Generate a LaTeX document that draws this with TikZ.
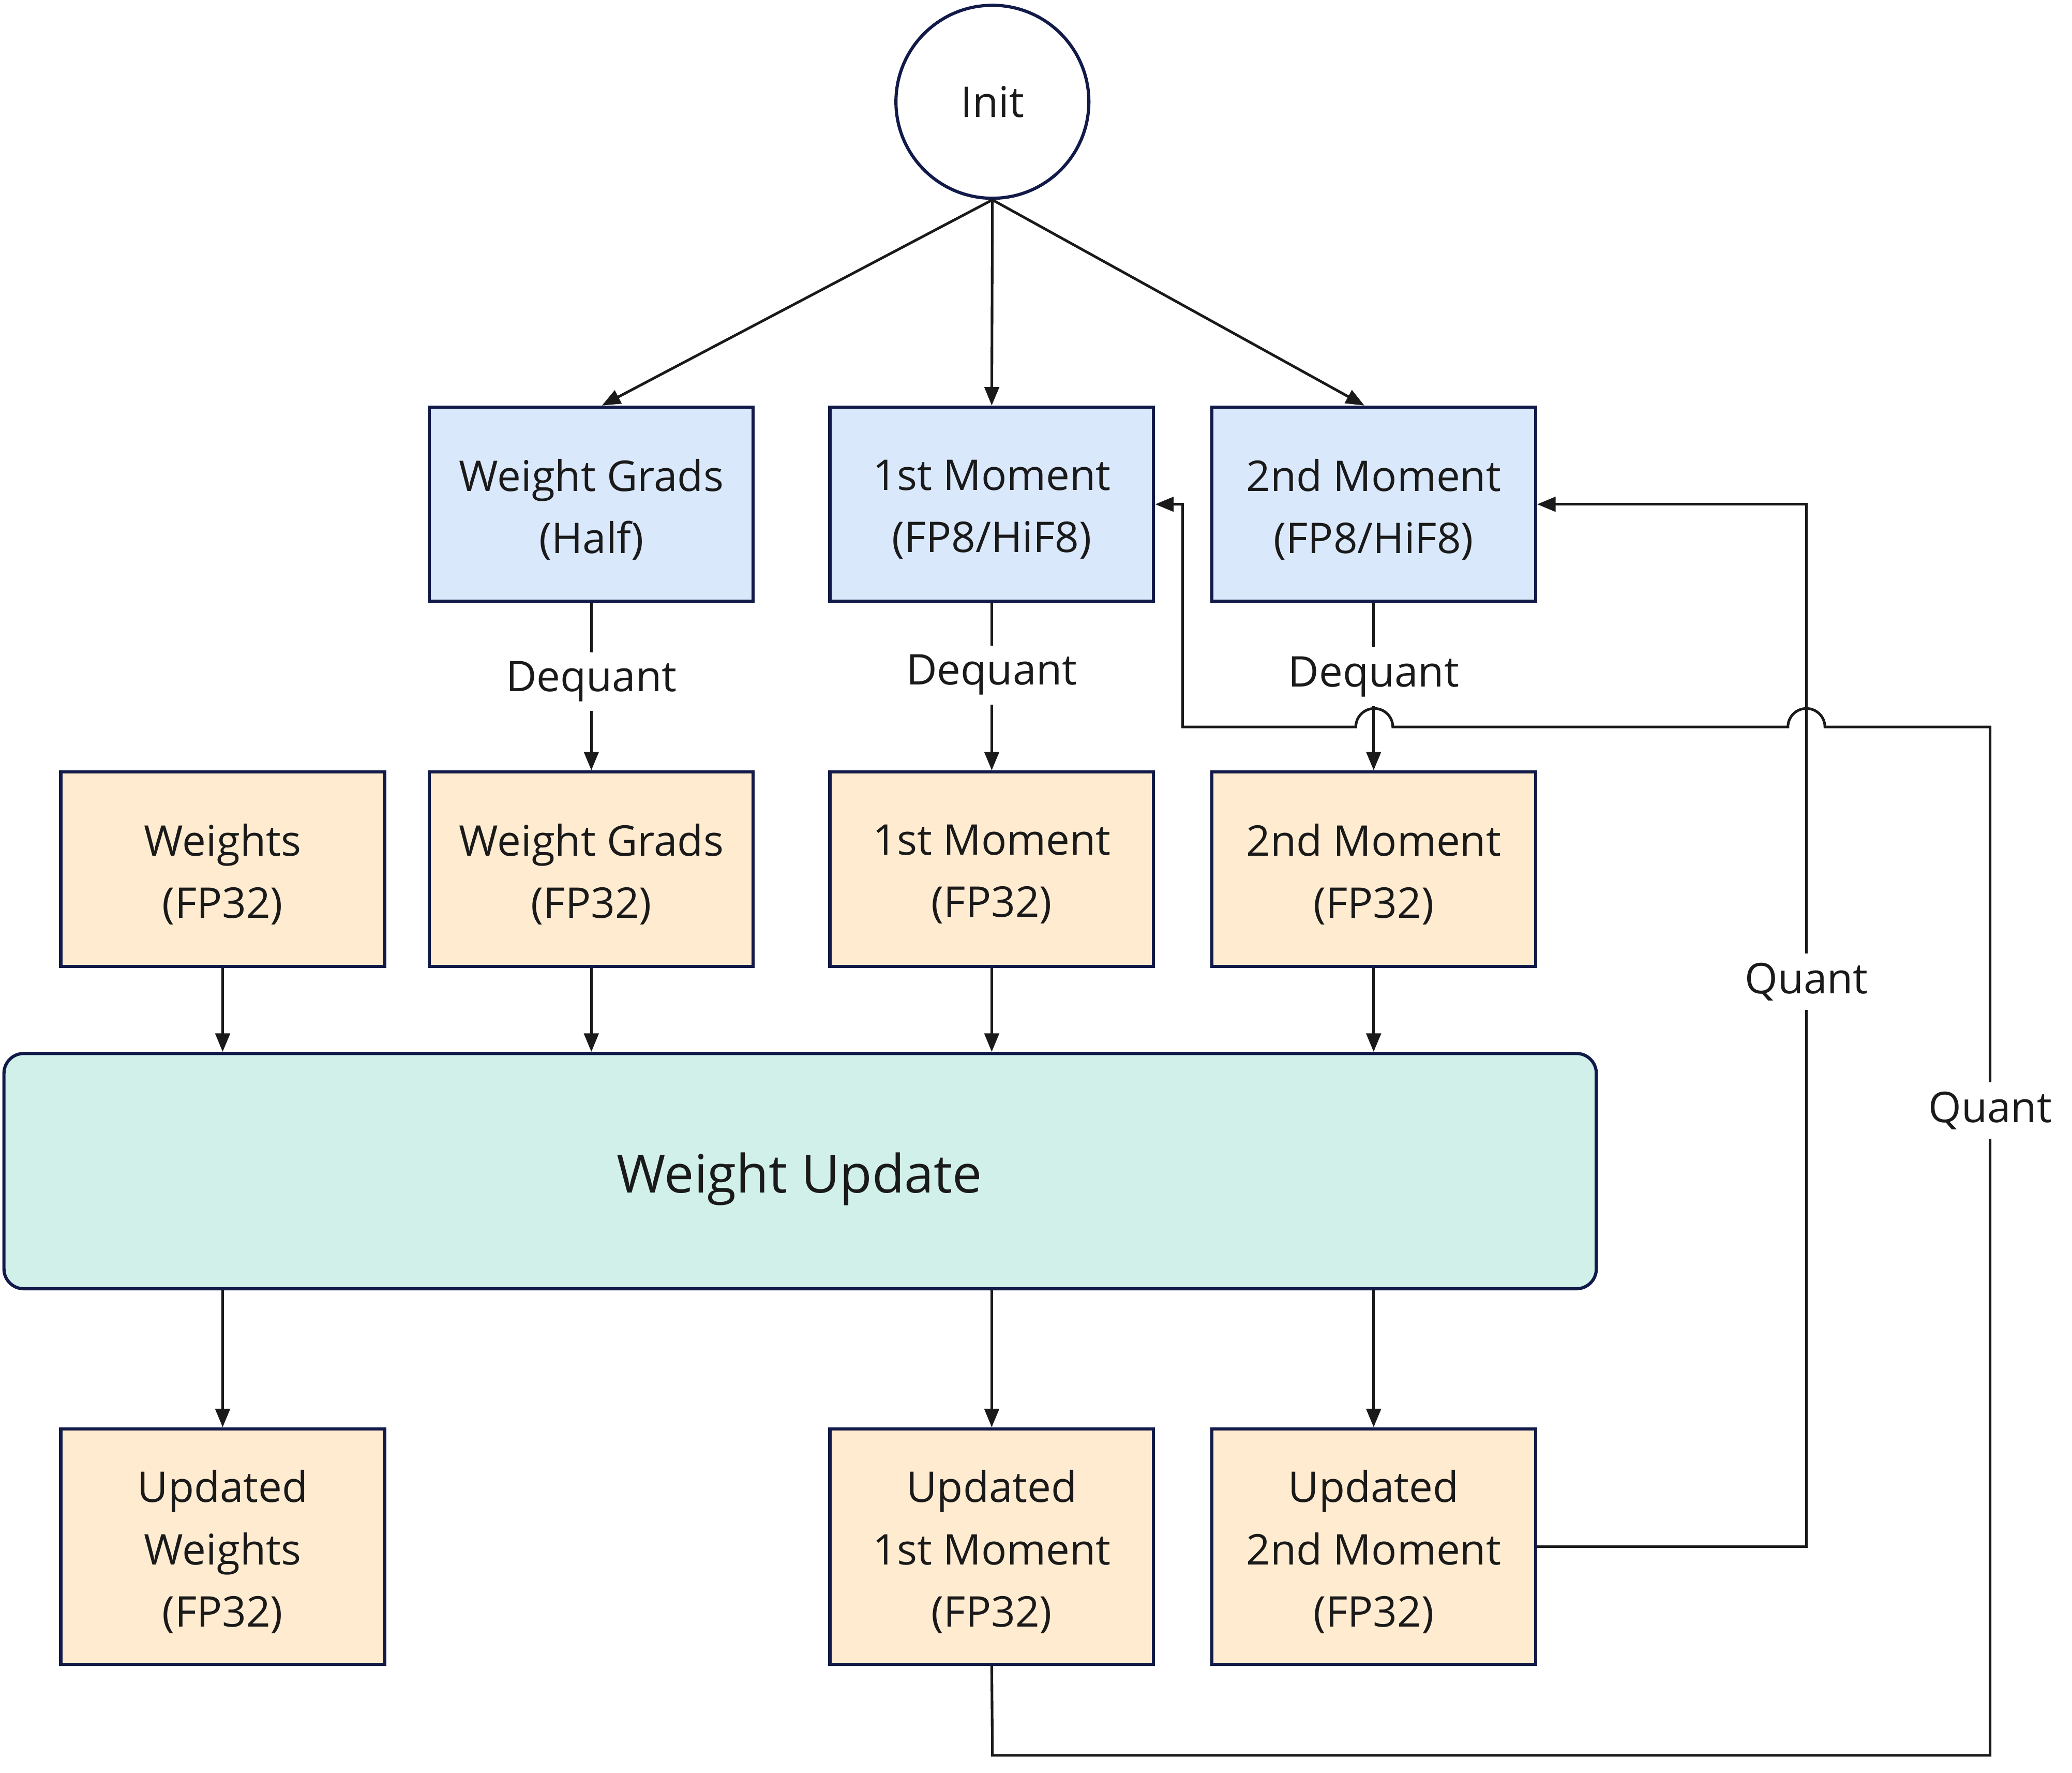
\documentclass[tikz,border=0pt]{standalone}
\usepackage{fontspec}
\setmainfont{Open Sans}
\usetikzlibrary{arrows.meta}
\definecolor{edge}{HTML}{111A48}
\definecolor{ink}{HTML}{1A1A1A}
\definecolor{bluefill}{HTML}{DAE8FC}
\definecolor{orangefill}{HTML}{FFEBD0}
\definecolor{tealfill}{HTML}{D0F0E9}
\tikzset{
  box/.style={draw=edge, line width=2.4pt, minimum width=245pt, inner sep=0pt},
  txt/.style={align=center, text=ink, font=\fontsize{32}{47}\selectfont,
    inner sep=0pt, yshift=-4pt},
  qbox/.style={box, fill=bluefill, minimum height=147pt},
  fbox/.style={box, fill=orangefill, minimum height=147pt},
  ubox/.style={box, fill=orangefill, minimum height=178pt},
  conn/.style={draw=ink, line width=2pt},
  arr/.style={conn, -{Triangle[length=14pt,width=11pt]}},
  lab/.style={fill=white, text=ink, font=\fontsize{32}{40}\selectfont,
    inner xsep=4pt, inner ysep=7pt}
}
\begin{document}
\begin{tikzpicture}[x=1pt,y=-1pt]
\useasboundingbox (0,0) rectangle (1568,1341);

\node[circle, draw=edge, line width=2.4pt, minimum size=146pt, inner sep=0pt,
  text=ink, font=\fontsize{32}{40}\selectfont] (init) at (751,77) {Init};

\node[qbox, label={[txt]center:Weight Grads\\(Half)}] (wgh) at (447.5,381.5) {};
\node[qbox, label={[txt]center:1st Moment\\(FP8/HiF8)}] (m1q) at (750.5,381.5) {};
\node[qbox, label={[txt]center:2nd Moment\\(FP8/HiF8)}] (m2q) at (1039.5,381.5) {};

\node[fbox, label={[txt]center:Weights\\(FP32)}] (w32) at (168.5,657.5) {};
\node[fbox, label={[txt]center:Weight Grads\\(FP32)}] (wg32) at (447.5,657.5) {};
\node[fbox, label={[txt]center:1st Moment\\(FP32)}] (m132) at (750.5,657.5) {};
\node[fbox, label={[txt]center:2nd Moment\\(FP32)}] (m232) at (1039.5,657.5) {};

\node[draw=edge, line width=2.4pt, fill=tealfill, rounded corners=15pt,
  minimum width=1205pt, minimum height=178pt, inner sep=0pt] (wu) at (605.5,886) {};
\node[text=ink, font=\fontsize{40}{48}\selectfont, inner sep=0pt] (wut) at (605,892) {Weight Update};

\node[ubox, label={[txt]center:Updated\\Weights\\(FP32)}] (uw) at (168.5,1170) {};
\node[ubox, label={[txt]center:Updated\\1st Moment\\(FP32)}] (um1) at (750.5,1170) {};
\node[ubox, label={[txt]center:Updated\\2nd Moment\\(FP32)}] (um2) at (1039.5,1170) {};

% init arrows
\draw[arr] (init.south) -- ([xshift=8pt]wgh.north);
\draw[arr] (init.south) -- (m1q.north);
\draw[arr] (init.south) -- ([xshift=-7pt]m2q.north);

% quant loop for 1st moment (drawn first, dequant arrow crosses over the hop)
\coordinate (q1a) at (751,1328);
\coordinate (q1b) at (1506,1328);
\coordinate (q1c) at (1506,550);
\coordinate (q1d) at (895,550);
\coordinate (q1e) at (895,381.5);
\draw[arr] (um1.south) -- (q1a) -- (q1b) -- node[lab,pos=0.627]{Quant} (q1c)
  -- (1381,550) arc[start angle=0, end angle=180, radius=14pt]
  -- (1054,550) arc[start angle=0, end angle=180, radius=14pt]
  -- (q1d) -- (q1e) -- (m1q.east);

% quant loop for 2nd moment
\coordinate (q2a) at (1367,1170);
\coordinate (q2b) at (1367,381.5);
\draw[arr] (um2.east) -- (q2a) -- node[lab,pos=0.542]{Quant} (q2b) -- (m2q.east);

% dequant arrows
\draw[arr] (wgh) -- node[lab,pos=0.47]{Dequant} (wg32);
\draw[arr] (m1q) -- node[lab,pos=0.43]{Dequant} (m132);
\draw[arr] (m2q) -- node[lab,pos=0.44]{Dequant} (m232);

% into weight update
\draw[arr] (w32.south) -- (w32.south |- wu.north);
\draw[arr] (wg32.south) -- (wg32.south |- wu.north);
\draw[arr] (m132.south) -- (m132.south |- wu.north);
\draw[arr] (m232.south) -- (m232.south |- wu.north);

% out of weight update
\draw[arr] (wu.south -| uw.north) -- (uw.north);
\draw[arr] (wu.south -| um1.north) -- (um1.north);
\draw[arr] (wu.south -| um2.north) -- (um2.north);
\end{tikzpicture}
\end{document}
